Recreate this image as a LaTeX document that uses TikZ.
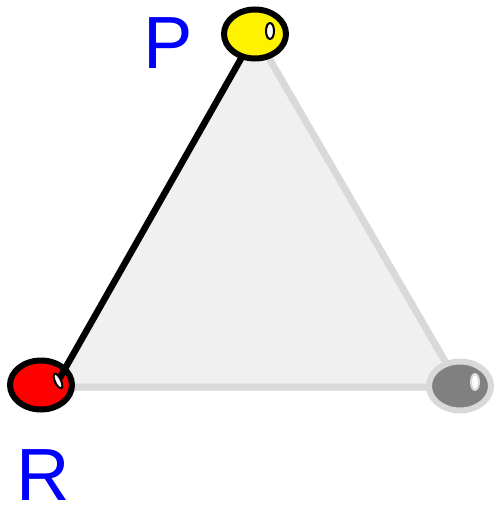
\documentclass[tikz,border=0pt]{standalone}
\usetikzlibrary{shapes.geometric}
\usepackage{fontspec}
\setmainfont{Liberation Sans}
\begin{document}
\begin{tikzpicture}[x=1pt,y=-1pt,
  ball/.style={draw=black,line width=6pt,ellipse,minimum width=62pt,minimum height=49pt,inner sep=0pt},
  shine/.style={draw=black,fill=white,line width=2pt},
  lbl/.style={text=blue,font=\fontsize{74}{80}\selectfont,inner sep=0pt,anchor=base}]
\useasboundingbox (0,0) rectangle (494,506);
\coordinate (tp) at (255,34);
\coordinate (tr) at (41,387);
\coordinate (tg) at (460,387);
\coordinate (re) at (58,381);
\fill[fill={rgb,255:red,240;green,240;blue,240}] (tp) -- (tg) -- (tr) -- (re) -- cycle;
\draw[draw={rgb,255:red,217;green,217;blue,217},line width=7pt,line join=round] (tr) -- (tg) -- (tp);
\node[ball,fill=red] (R) at (41,385) {};
\node[ball,fill={rgb,255:red,128;green,128;blue,128},draw={rgb,255:red,217;green,217;blue,217}] (G) at (460,386) {};
\draw[black,line width=6.5pt] (tp) -- (re);
\draw[shine,rotate around={25:(re)}] (re) ellipse (3pt and 8pt);
\node[ball,fill=yellow] (P) at (tp) {};
\draw[shine] (270,31) ellipse (4pt and 8pt);
\draw[draw={rgb,255:red,217;green,217;blue,217},fill=white,line width=2pt] (475,382) ellipse (4pt and 8pt);
\node[lbl] (lp) at (168,68) {P};
\node[lbl] (lr) at (43,500) {R};
\end{tikzpicture}
\end{document}
